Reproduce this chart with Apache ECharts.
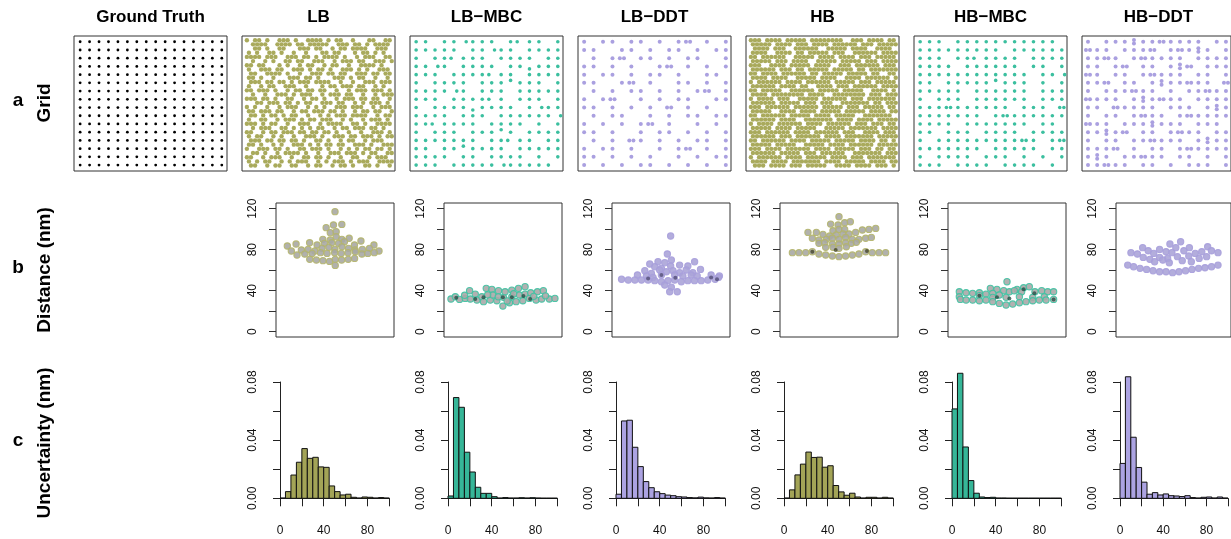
<!DOCTYPE html>
<html><head><meta charset="utf-8">
<script src="https://cdn.jsdelivr.net/npm/echarts@6/dist/echarts.min.js"></script>
<style>html,body{margin:0;padding:0;background:#fff}#c{width:1231px;height:539px}</style>
</head><body><div id="c"></div>
<script>
// ---------------- DATA ----------------
const columnTitles = ['Ground Truth', 'LB', 'LB\u2212MBC', 'LB\u2212DDT', 'HB', 'HB\u2212MBC', 'HB\u2212DDT'];
const rowLetters = ['a', 'b', 'c'];
const rowLabels = ['Grid', 'Distance (nm)', 'Uncertainty (nm)'];

// Ground-truth grid node positions (grid units)
const groundTruthX = [0,1,2,3,4,5,6,7,8,9,10,11,12,13,14,15];
const groundTruthY = [0,1,2,3,4,5,6,7,8,9,10,11,12,13,14,15];

// Dense localisation maps ('#' = localisation present)
const gridLB = [
"#.##.#..###.#..####.#.##..#...##..##",
".####..####.##.#####..###.##.#.####.",
"..##.#..##...###.##..#.##.####..###.",
"#.#..##.#..#..#...##.##...#.##.#.#..",
"####.###..###.##.#.####.#..#.###..##",
".#..#.#..##.##..###..#.###.##..###.#",
"##.##...#.#..#.##..#.##..#..####.#..",
"#..###.##..###.#.##.#..###.#.#..###.",
".##..####.#..#..###.##.##..###.##.##",
"##.#..#...###.##.#...###.#.##..#..#.",
".###.##.##.#.###.####..#..#..###.###",
"#..#.##..###..#...#.##.###.##..#.#..",
"##.###.#..#.##.##.##..#..#.###.###.#",
".#..#..###.#.###..#.###.##..#..#.###",
"###.##.#..##..#.##.#..#.###.##.##..#",
"..##.###.##.#.##..###.##..#.#.###.#.",
"#.#..#..#.###..#.#.#..###.###..#.###",
"##.###.##..#.##.###.##.#..#.##.##..#",
".##.#.##.#.##..#..#.#.###.####..#.##",
"#..##..#.###.#.##.###..#.#..#.###.#.",
"###.#.##..#..###..#.####..##.#..####",
".#.###..##.#.#.#.##..#.##.###.##.#..",
"##..#.##.###.##.##.##.#..#..#..###.#",
"#.##..#.#..#..###.#..###.##.###.#.##",
".###.##.##.##.#..##.#..#.##..#.###..",
"##.#..#.#..###.#.#.##.##..###.#..###",
"#..###.##.#..##.###.#..#.#.#.##.##.#",
".##.#..#.####.#..#..###.###.#.##..##",
"##..#.###..#..##.##.#..#..##..#.###.",
"#.#.##..#.#.###..#.#.###.#.###..####",
".##..#.##..##..#.##..#.##.#..##.#..#"
];
const gridHB = [
"###.####.#####.########..###.####.##",
"#####.####.###.####.######.###.#####",
".####.###..######..#####.####..####.",
"####..####.##.#####.###..######.####",
"##.######..#####.####.####.###.#####",
"#####.###.####..#####.#####.###.####",
"###..####.#####.####..###.######.###",
"######.###.##.#####.#####.##.#######",
"##.####.######.##.#####.#####.##..##",
"####.####..#####.####..####.######.#",
"#.######.####.######.#####.###.#####",
"######.####.##..####.###.######.####",
"##.#####..######.#####.#####..####.#",
"####.########.####..########.###.###",
"#.####.###..#####.######.###.#######",
"######.#####.###.###..#######.##.###",
"###.######.######.#####.###.#####.##",
"#####..####.####.#####.#####.####.##",
"##.######.#####.####.#####..#######.",
"######.####..#######.####.####.#####",
"#.####.######.####.######.###.###.##",
"#####.####.#####..#####.#######.####",
"###.######.####.######.###..####.###",
"######.###.######.####.#######.#####",
"##.######.####.#####.#####.####.##.#",
"#####.#####..#####.####.######.#####",
"###.####.######.####.#####.###.##.##",
"######.#####.###.######..#######.###",
"#.######.####.#####.####.###.#######",
"####.####.#######.####.#####.####.##",
".###.####.###.#####..####.####.###.#"
];
// Near-grid maps: '.' empty, 'o' on node, l/r/u/d shifted, '2' horizontal pair, ':' vertical pair
const gridLBMBC = [
"oo.oorooo.oloo.o",
"ooooo.ooroo.oooo",
"o.oolooo.oooo.oo",
"ooro.oooo.oodooo",
"ooo.ooooloo.oooo",
"o.oooo.ooouooo.o",
"ooooro.ooo.ooooo",
"ooo.oooolo.ooo.o",
"o.oooodoooo.oroo",
"oooo.ooo.oooooor",
"ooloooo.oooo.o.o",
"o.ooo.ooouo.oooo",
"ooooooo.ooloo.oo",
"oo.oouoooo.ooooo",
"oooo.oo.oooo.o.o",
"ooo.ooooorooooo."
];
const gridLBDDT = [
"o.oo.oo.o.o2.o.o",
"oo..oo.o.oo.o.oo",
".o.o2.oo.o.oo..o",
"oo.o.o..o2.o.o.o",
"o.oo.o.oo.o..oo.",
"oo..o2.o..oo.o.o",
".o.o.oo.o.o.o2.o",
"o.o2..o.o.oo..oo",
"oo.o.o.o.2.o.o..",
".o.oo..o.o.oo.oo",
"o.o.o.o2.o..o.o.",
"oo.o..o.oo.o.o.o",
".o.o.2o.o.o.oo.o",
"o.oo.o..o.o2.o.o",
"oo.o.o.o..o.o.oo",
"o.o.o.oo.o.o.o.o"
];
const gridHBMBC = [
"ooo.ooooooooooo.",
"ooooooooo.oooooo",
"ooo.ooloooo.oooo",
"oooo.oooooo.oo.o",
"oooooooooooo.oor",
"oo.ooooouooo.o.o",
"ooooo.oooooo.ooo",
"o.ooo.oooooo.ooo",
"ooo2oooooo.ooo.2",
"ooooooo.o2oooooo",
"oooo.ooooooo.oo.",
"oo.ooo.oooo.oooo",
"o.ooooooooo2o.o2",
"ooooooo.ooooo.oo",
"o.oooo.ooo.o.o.o",
"ooo.oooo.oooo.o."
];
const gridHBDDT = [
"o.ooo:oo2oooo.oo",
"2oo.ooo2.o2o:o.o",
"oo2o.o2oooo.oooo",
"oo.o2.oo.o:2.ooo",
"2o.oo.o2ooo.oo.o",
"oo2.oo.o:oo2oo.2",
"o.ooo2oo.o.oo2oo",
"2ooo.o:o2oo.oooo",
"oo.2oooo.ooo.o:o",
"o.oo.o2oo.o2oooo",
"2oo.ooo:ooo.ooo.",
"oo:o2.oo.o2oo.oo",
"o.oo.oo2ooo.o:oo",
"ooo2.o.oo.o2oooo",
"o:o.oo2oo.oo.o.o",
"oo2oo.oo.o.ooo.o"
];

// Beeswarm: [swarm position (0-100 across panel), nearest-neighbour distance (nm)]
const swarmLB = [[50,117.1],[42.5,101.5],[48.7,104.1],[55.8,104.7],[46,96.6],[51,97.6],[51,92.7],[39.7,90.1],[46,89.4],[55.8,90.1],[62,91.1],
[9.6,83.6],[17,85.5],[28.5,86.8],[34.8,84.6],[41,86.2],[47.3,86.8],[53,86.2],[58,87.8],[66.5,84.6],[72,88.5],[83,84.6],
[13,78.7],[21.5,79.7],[27.2,80.3],[32.9,78.7],[39,81.3],[44.8,82.3],[49.9,80.3],[55.9,82.9],[61.5,81.3],[67,79.7],[73.2,80.3],[79.2,81.3],[87.3,78.7],
[17.8,74.8],[24.4,75.8],[30.6,76.4],[37.7,77.1],[43.3,76.4],[49.7,77.1],[55.3,76.4],[61,77.1],[67.2,78],[72.8,75.8],[77.8,76.4],[83.3,77.1],
[28.6,70.6],[34.2,69.9],[39.8,69.3],[45.4,68.6],[50.2,70.6],[55.6,69.9],[61.2,70.6],[66.6,71.5],[50.2,64.7]];
const swarmLBMBC = [[5.9,31.9],[9.6,34.1],[13.2,31.5],[18,32.5],[21.7,40],[22.3,31.9],[26.5,36.7],[27.9,30.9],[32.1,34.1],[33.5,29.3],[35.8,42.3],
[39.2,30.9],[40.6,41.3],[41.4,35.8],[44.8,30.2],[46.2,40],[49.9,25],[50.4,33.5],[51.8,39],[55.5,28.3],[57.5,40.6],[57.5,34.1],[61.1,29.3],
[63.1,42.3],[63.9,35.8],[66.8,30.2],[68.7,43.9],[68.7,36.7],[72.4,32.5],[73.5,38],[78,30.9],[79.2,39],[82.8,31.9],[84.2,40],[89.3,31.9],[94,32.5],
[17.5,35.5],[37,36],[46,34],[53.5,30],[59,37],[76,34.5],[86,35]];
const overlapLBMBC = [[10.4,33.2],[26.5,31.9],[33.5,33.5],[49.9,33.5],[57.5,33.5],[67.3,34.8],[73,31.9]];
const swarmLBDDT = [[49.7,93.3],[46.9,75.8],[39,68.3],[44.7,67.3],[50.3,69.9],[32,66],[36.2,63.4],[41.9,61.8],[49.7,64.1],[57.3,65],[64.3,64.1],[70,68.3],
[27.8,59.5],[33.4,56.9],[40.4,60.2],[46.1,58.5],[51.7,59.5],[57.3,57.6],[62.9,60.2],[68.5,57.6],[75,60.8],
[21.6,55.3],[29.2,54.3],[34.8,53],[41.9,55.3],[53.1,55.3],[60.1,54.3],[67.1,55.3],[72.2,54.3],[84,55.3],[91,54.3],
[8.1,51.1],[13.8,50.4],[19.4,50.4],[25,50.4],[30.6,50.4],[36.2,49.8],[41.9,48.8],[47.5,49.8],[53.1,50.4],[58.7,48.8],[64.3,49.8],[69.9,49.8],[75.6,49.8],[81.2,50.4],[87.4,51.1],[90.2,53],
[44.7,45.5],[50.3,43.3],[48.9,39],[55.3,39]];
const overlapLBDDT = [[30.6,52],[41.9,55.3],[53.7,52.7],[84,53],[89,51.1]];
const swarmHB = [[50,112.2],[42.9,105],[49.2,104.1],[54.8,106.3],[59.6,107.3],[44.9,98.5],[50,99.8],[54.8,99.8],
[23.7,96.9],[30.8,96.9],[36.4,95],[42.1,93.3],[47.7,94.3],[53.4,95.3],[58.5,95.3],[64.1,96.9],[69.8,99.2],[75.4,99.8],[81.1,100.8],
[27.4,91.1],[33,89.4],[39.3,90.1],[44.4,91.1],[50,90.1],[55.6,92],[61.3,90.1],[66.9,90.1],[72.6,91.1],[77.4,92],
[33,86.2],[37.9,86.8],[44.4,85.5],[50,85.5],[55.6,86.8],[60.5,86.2],[64.7,87.2],[38.7,82.3],[44.9,82.3],[50,81.3],[56.2,82.9],
[10.5,77.1],[16.1,77.1],[21.8,77.1],[27.4,78],[33,75.8],[38.7,74.8],[44.4,73.8],[50,73.2],[55.6,73.8],[61.3,74.8],[66.9,75.8],[72.6,78],[78.2,77.1],[83.9,77.1],[89.5,77.1]];
const overlapHB = [[27.4,78],[47.2,79.7],[73.7,78.7]];
const swarmHBMBC = [[50,48.8],[35.9,42.3],[41.5,41.3],[47.2,40],[58.5,41.3],[64.1,42.9],[68.9,43.9],
[9.6,39],[15.3,38],[20.9,37.4],[26.6,38],[32.2,36.7],[37.9,37.4],[43.5,35.8],[52,39],[56.2,40],[62.4,39],[73.7,39],[79.4,40],[84.5,39],[89.5,39],
[9.6,34.1],[26.6,35.1],[37.9,33.5],[49.2,33.5],[60.5,34.1],[71.8,33.5],[81.6,34.1],
[10.5,31.5],[15.3,30.9],[20.9,30.9],[26.6,30.2],[32.2,30.9],[37.9,29.3],[43.5,27.6],[49.2,26],[54.8,27],[60.5,28.3],[66.1,29.3],[71.8,30.2],[77.4,30.9],[83.1,30.9],[89.5,31.5]];
const overlapHBMBC = [[26.6,35.1],[41.5,33.5],[52,32.5],[64.1,41.3],[73.2,37.4],[89.5,31.5]];
const swarmHBDDT = [[56.2,87.8],[46.9,85.5],[23.2,82],[37.9,80.3],[52,82],[63.8,82],[79.7,82.9],
[13,77.1],[18.6,75.8],[28,79],[32.8,76.4],[43.5,78],[48.6,77.1],[59,79],[68.9,76.4],[74.6,78],[83,79],[88.7,77.1],
[23.7,72.5],[29.4,70.6],[37.9,72.5],[44.9,71.5],[53.4,73.2],[63.3,73.8],[72.3,71.5],[78.8,73.2],
[33.6,68.3],[40.7,69.9],[46.3,67.3],[57.6,69.3],[65.5,68.3],
[10.2,65],[15.3,63.4],[20.9,61.8],[26.6,60.8],[32.2,59.5],[37.9,58.5],[43.5,58.5],[49.2,57.6],[54.8,58.5],[60.5,59.5],[66.1,60.8],[71.8,61.8],[77.4,62.4],[83.1,63.4],[88.7,65]];

// Histograms: bin starts (nm) and densities
const histBins = [0,5,10,15,20,25,30,35,40,45,50,55,60,65,70,75,80,85,90,95];
const histLB    = [0.0002,0.0046,0.016,0.0248,0.0342,0.0275,0.0282,0.0216,0.0213,0.0085,0.0046,0.0023,0.0028,0.0007,0.0002,0.0009,0.0007,0.0002,0.0005,0.0002];
const histLBMBC = [0.0016,0.0693,0.0626,0.0317,0.0181,0.0076,0.0034,0.0034,0.0011,0.0002,0.0005,0.0002,0.0002,0.0004,0.0002,0.0004,0.0002,0.0001,0.0001,0.0001];
const histLBDDT = [0.0028,0.0532,0.0537,0.0351,0.0218,0.0115,0.0073,0.0045,0.0032,0.0022,0.0018,0.0011,0.0009,0.0005,0.0003,0.0008,0.0003,0.0002,0.0005,0.0002];
const histHB    = [0.0002,0.0058,0.0161,0.0235,0.0318,0.0281,0.0283,0.0214,0.0224,0.0088,0.0044,0.0021,0.0035,0.0009,0.0002,0.0007,0.0007,0.0002,0.0007,0.0002];
const histHBMBC = [0.0615,0.086,0.0353,0.0122,0.0035,0.0009,0.0005,0.0007,0.0002,0.0002,0.0001,0.0001,0.0001,0.0001,0.0001,0.0001,0.0001,0.0001,0.0001,0.0001];
const histHBDDT = [0.024,0.0836,0.042,0.0212,0.0111,0.0028,0.0039,0.0023,0.003,0.0018,0.0016,0.0012,0.0018,0.0005,0.0002,0.0007,0.0009,0.0002,0.0009,0.0002];

// Tick labels
const distanceTickLabels = [0, 40, 80, 120];
const uncertaintyYLabels = ['0.00', '0.04', '0.08'];
const uncertaintyXLabels = [0, 40, 80];

// ---------------- STYLE / LAYOUT ----------------
const OLIVE = '#a9aa5c', TEAL = '#3bbf9f', LAV = '#aaa0e0';
const FONT = '"Liberation Sans", Arial, sans-serif';
const COL0 = 74, COLSTEP = 168;

const panels = [
  null,
  {grid: gridLB, dense: true, color: OLIVE, swarm: swarmLB, overlap: [], sFill: '#a9a9a3', sBorder: '#b4b56c', hist: histLB, hFill: '#a3a457'},
  {grid: gridLBMBC, color: TEAL, size: 3.6, swarm: swarmLBMBC, overlap: overlapLBMBC, sFill: '#a8a8a8', sBorder: '#3fc2a2', oColor: '#1f4a40', hist: histLBMBC, hFill: '#36b698'},
  {grid: gridLBDDT, color: LAV, size: 4, swarm: swarmLBDDT, overlap: overlapLBDDT, sFill: '#aba4d8', sBorder: '#a79fdc', oColor: '#4d4870', hist: histLBDDT, hFill: '#aca3e2'},
  {grid: gridHB, dense: true, color: OLIVE, swarm: swarmHB, overlap: overlapHB, sFill: '#a9a9a3', sBorder: '#b4b56c', oColor: '#3d3f22', hist: histHB, hFill: '#a3a457'},
  {grid: gridHBMBC, color: TEAL, size: 3.6, swarm: swarmHBMBC, overlap: overlapHBMBC, sFill: '#a8a8a8', sBorder: '#3fc2a2', oColor: '#1f4a40', hist: histHBMBC, hFill: '#36b698'},
  {grid: gridHBDDT, color: LAV, size: 4, swarm: swarmHBDDT, overlap: [], sFill: '#aba4d8', sBorder: '#a79fdc', hist: histHBDDT, hFill: '#aca3e2'}
];

// odd rows of the dense maps are read on a half-column staggered lattice
function densePoints(rows) {
  const pts = [];
  rows.forEach((r, ri) => { for (let c = 0; c < r.length; c++) if (r[c] === '#') pts.push([c + (ri % 2) * 0.5, rows.length - 1 - ri]); });
  return pts;
}
const SHIFT = {o: [[0,0]], l: [[-0.3,0]], r: [[0.3,0]], u: [[0,0.3]], d: [[0,-0.3]], '2': [[-0.22,0],[0.22,0]], ':': [[0,0.22],[0,-0.22]]};
function nodePoints(rows) {
  const pts = [];
  rows.forEach((r, ri) => {
    for (let c = 0; c < r.length; c++) {
      const s = SHIFT[r[c]]; if (!s) continue;
      s.forEach(d => pts.push([groundTruthX[c] + d[0], groundTruthY[rows.length - 1 - ri] + d[1]]));
    }
  });
  return pts;
}
function gtPoints() {
  const pts = [];
  groundTruthY.forEach(y => groundTruthX.forEach(x => pts.push([x, y])));
  return pts;
}

const grid = [], xAxis = [], yAxis = [], series = [], graphic = [];
const hidden = {show: false, splitLine: {show: false}};
function addGrid(g, xa, ya) {
  grid.push(Object.assign({containLabel: false}, g));
  const gi = grid.length - 1;
  xAxis.push(Object.assign({gridIndex: gi, type: 'value', splitLine: {show: false}}, xa));
  yAxis.push(Object.assign({gridIndex: gi, type: 'value', splitLine: {show: false}}, ya));
  return gi;
}
const boxStyle = {show: true, borderColor: '#333', borderWidth: 1, backgroundColor: 'rgba(0,0,0,0)'};

for (let i = 0; i < 7; i++) {
  const L = COL0 + COLSTEP * i;
  const p = panels[i];
  // Row a: localisation maps
  let gi;
  if (!p || !p.dense) {
    gi = addGrid(Object.assign({left: L, top: 36, width: 153, height: 135}, boxStyle),
      Object.assign({min: -0.65, max: 15.55}, hidden), Object.assign({min: -0.72, max: 15.7}, hidden));
  } else {
    gi = addGrid(Object.assign({left: L, top: 36, width: 153, height: 135}, boxStyle),
      Object.assign({min: -1.2, max: 36.3}, hidden), Object.assign({min: -1.3, max: 31.0}, hidden));
  }
  series.push({
    type: 'scatter', xAxisIndex: gi, yAxisIndex: gi, silent: true,
    data: !p ? gtPoints() : (p.dense ? densePoints(p.grid) : nodePoints(p.grid)),
    symbolSize: !p ? 2.8 : (p.dense ? 4.4 : p.size),
    itemStyle: {color: !p ? '#000' : p.color, opacity: 1}
  });
  if (!p) continue;

  // Row b: box + beeswarm
  addGrid(Object.assign({left: L + 34, top: 203, width: 118, height: 134}, boxStyle),
    Object.assign({min: 0, max: 1}, hidden), Object.assign({min: 0, max: 1}, hidden));
  const gb = addGrid({left: L + 34, top: 208.7, width: 118, height: 123},
    Object.assign({min: 0, max: 100}, hidden),
    {min: 0, max: 120, interval: 20,
     axisLine: {show: false},
     axisTick: {show: true, length: 7, lineStyle: {color: '#333', width: 1}},
     axisLabel: {show: true, rotate: 90, margin: 17, fontSize: 12, fontFamily: FONT, color: '#111',
       formatter: v => distanceTickLabels.includes(v) ? String(v) : ''}});
  series.push({
    type: 'scatter', xAxisIndex: gb, yAxisIndex: gb, silent: true, data: p.swarm, symbolSize: 6.3,
    itemStyle: {color: p.sFill, borderColor: p.sBorder, borderWidth: 1.1, opacity: 0.9}
  });
  if (p.overlap.length) series.push({
    type: 'scatter', xAxisIndex: gb, yAxisIndex: gb, silent: true, data: p.overlap, symbolSize: 4,
    itemStyle: {color: p.oColor, opacity: 0.75}
  });

  // Row c: histogram
  const gc = addGrid({left: L + 38, top: 382, width: 109.3, height: 116.3},
    {min: 0, max: 100, interval: 20, offset: 5,
     axisLine: {show: true, lineStyle: {color: '#222', width: 1}},
     axisTick: {show: true, length: 8, lineStyle: {color: '#222', width: 1}},
     axisLabel: {show: true, margin: 21, fontSize: 12, fontFamily: FONT, color: '#111',
       formatter: v => uncertaintyXLabels.includes(v) ? String(v) : ''}},
    {min: 0, max: 0.08, interval: 0.02, offset: 4.3,
     axisLine: {show: true, lineStyle: {color: '#222', width: 1}},
     axisTick: {show: true, length: 7, lineStyle: {color: '#222', width: 1}},
     axisLabel: {show: true, rotate: 90, margin: 17, fontSize: 12, fontFamily: FONT, color: '#111',
       formatter: v => { const s = Number(v).toFixed(2); return uncertaintyYLabels.includes(s) ? s : ''; }}});
  const binW = histBins[1] - histBins[0];
  const fill = p.hFill;
  series.push({
    type: 'custom', coordinateSystem: 'cartesian2d', xAxisIndex: gc, yAxisIndex: gc, silent: true,
    clip: false,
    data: histBins.map((b, k) => [b, p.hist[k]]),
    encode: {x: 0, y: 1},
    renderItem: (params, api) => {
      const x0 = api.value(0), h = api.value(1);
      const a = api.coord([x0, 0]), b = api.coord([x0 + binW, h]);
      return {type: 'rect', shape: {x: a[0], y: b[1], width: b[0] - a[0], height: a[1] - b[1]},
        style: {fill: fill, stroke: '#111', lineWidth: 1}};
    }
  });
}

// Titles and row labels
columnTitles.forEach((t, i) => {
  graphic.push({type: 'text', x: COL0 + COLSTEP * i + 76.5, y: 17, silent: true,
    style: {text: t, font: 'bold 17px ' + FONT, fill: '#000', align: 'center', verticalAlign: 'middle', textAlign: 'center', textVerticalAlign: 'middle'}});
});
const rowCenters = [103, 270, 443];
rowLetters.forEach((t, i) => {
  graphic.push({type: 'text', x: 18, y: rowCenters[i] - 2, silent: true,
    style: {text: t, font: 'bold 19px ' + FONT, fill: '#000', align: 'center', verticalAlign: 'middle', textAlign: 'center', textVerticalAlign: 'middle'}});
  graphic.push({type: 'text', x: 45, y: rowCenters[i], rotation: Math.PI / 2, silent: true,
    style: {text: rowLabels[i], font: 'bold 19px ' + FONT, fill: '#000', align: 'center', verticalAlign: 'middle', textAlign: 'center', textVerticalAlign: 'middle'}});
});

const chart = echarts.init(document.getElementById('c'), null, {renderer: 'canvas'});
chart.setOption({animation: false, backgroundColor: '#fff', grid, xAxis, yAxis, series, graphic});
</script>
</body></html>
